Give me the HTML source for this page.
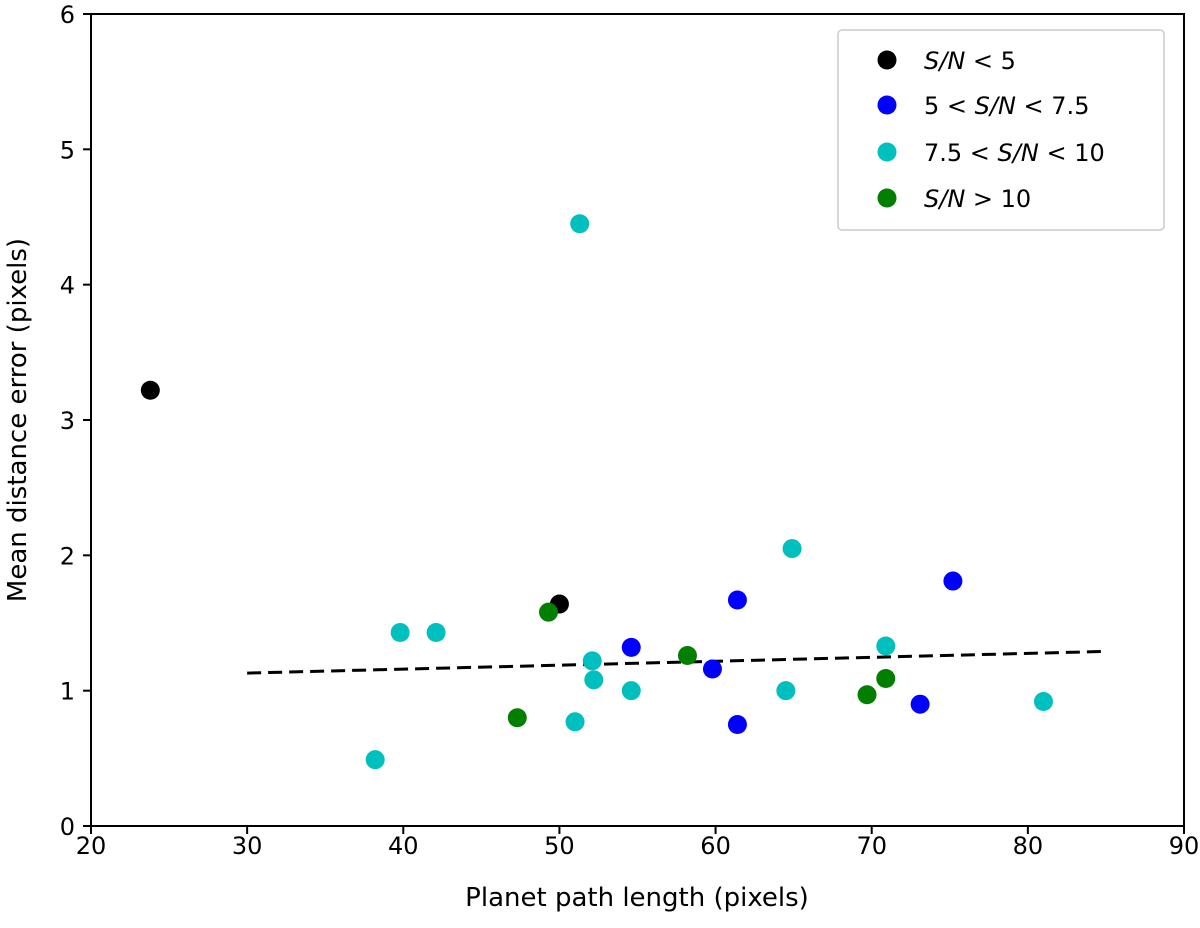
<!DOCTYPE html>
<html><head><meta charset="utf-8"><style>
body{margin:0;background:#fff;}
svg text{font-family:"DejaVu Sans","Liberation Sans",sans-serif;fill:#000;}
</style></head><body>
<svg id="chart" width="1200" height="923">
<g id="marks"></g>
<g id="axes"></g>
<rect x="91" y="14" width="1093" height="812" fill="none" stroke="#000" stroke-width="2"/>
<text x="637" y="906" font-size="26" text-anchor="middle">Planet path length (pixels)</text>
<text transform="translate(26,420) rotate(-90)" font-size="26" text-anchor="middle">Mean distance error (pixels)</text>
<g>
<rect x="838" y="30" width="326" height="200" rx="4" fill="#fff" stroke="#ccc" stroke-width="1.5"/>
<g><circle cx="887" cy="60" r="9.5" fill="#000"/><text x="924" y="69" font-size="24"><tspan font-style="italic">S/N</tspan> &lt; 5</text></g>
<g><circle cx="887" cy="105" r="9.5" fill="#0000ff"/><text x="924" y="114" font-size="24">5 &lt; <tspan font-style="italic">S/N</tspan> &lt; 7.5</text></g>
<g><circle cx="887" cy="152" r="9.5" fill="#00bfbf"/><text x="924" y="161" font-size="24">7.5 &lt; <tspan font-style="italic">S/N</tspan> &lt; 10</text></g>
<g><circle cx="887" cy="198" r="9.5" fill="#007f00"/><text x="924" y="207" font-size="24"><tspan font-style="italic">S/N</tspan> &gt; 10</text></g>
</g>
</svg>
<script>
const xTicks=[20,30,40,50,60,70,80,90];
const yTicks=[0,1,2,3,4,5,6];
const blackX=[23.8,50.0];
const blackY=[3.22,1.64];
const blueX=[54.6,61.4,59.8,61.4,73.1,75.2];
const blueY=[1.32,1.67,1.16,0.75,0.90,1.81];
const cyanX=[51.3,38.2,39.8,42.1,52.1,52.2,51.0,54.6,64.9,64.5,70.9,81.0];
const cyanY=[4.45,0.49,1.43,1.43,1.22,1.08,0.77,1.00,2.05,1.00,1.33,0.92];
const greenX=[49.3,47.3,58.2,69.7,70.9];
const greenY=[1.58,0.80,1.26,0.97,1.09];
const fitX=[30,85];
const fitY=[1.13,1.29];
const X=v=>91+(v-20)*(1093/70);
const Y=v=>826-v*(812/6);
const NS="http://www.w3.org/2000/svg";
const marks=document.getElementById('marks'),axes=document.getElementById('axes');
function mk(tag,attrs,parent){const e=document.createElementNS(NS,tag);for(const k in attrs)e.setAttribute(k,attrs[k]);parent.appendChild(e);return e;}
xTicks.forEach(t=>{
 const l=mk('line',{x1:X(t),x2:X(t),y1:826,y2:834,stroke:'#000','stroke-width':2},axes);
 
 
 const tx=mk('text',{x:X(t),y:854,'font-size':24,'text-anchor':'middle'},axes);tx.textContent=t;
 
 
});
yTicks.forEach(t=>{
 const l=mk('line',{x1:83,x2:91,y1:Y(t),y2:Y(t),stroke:'#000','stroke-width':2},axes);
 
 
 const tx=mk('text',{x:75,y:Y(t)+9,'font-size':24,'text-anchor':'end'},axes);tx.textContent=t;
 
 
});
const fit=mk('line',{x1:X(fitX[0]),y1:Y(fitY[0]),x2:X(fitX[1]),y2:Y(fitY[1]),stroke:'#000','stroke-width':3,'stroke-dasharray':'14,7'},marks);


function series(xs,ys,color,name){xs.forEach((x,i)=>{
 const c=mk('circle',{cx:X(x),cy:Y(ys[i]),r:9.5,fill:color},marks);
 
 
});}
series(blackX,blackY,'#000','point-snr-lt-5');
series(blueX,blueY,'#0000ff','point-snr-5-7.5');
series(cyanX,cyanY,'#00bfbf','point-snr-7.5-10');
series(greenX,greenY,'#007f00','point-snr-gt-10');
</script>
</body></html>
